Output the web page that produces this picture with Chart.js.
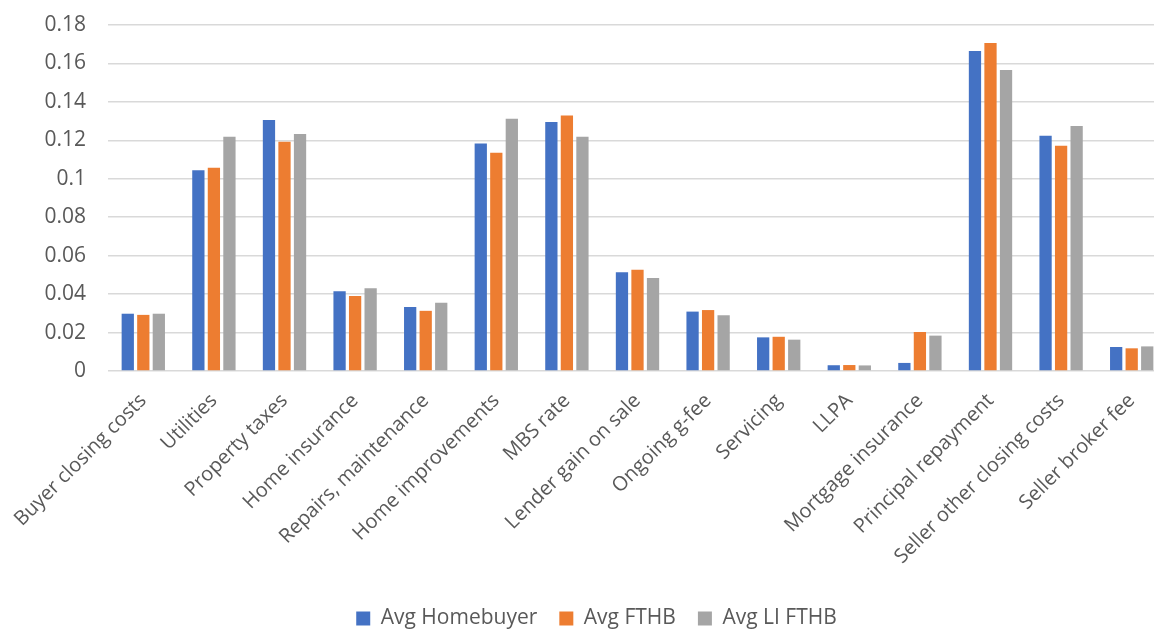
<!DOCTYPE html>
<html>
<head>
<meta charset="utf-8">
<script src="https://cdn.jsdelivr.net/npm/chart.js@4.4.1/dist/chart.umd.min.js"></script>
<style>
  html, body { margin: 0; padding: 0; background: #ffffff; overflow: hidden; }
  #frame { width: 1154px; height: 629px; overflow: hidden; position: relative; }
  #wrap { width: 1194px; height: 629px; position: absolute; left: 0; top: 0; }
</style>
</head>
<body>
<div id="frame"><div id="wrap"><canvas id="chart"></canvas></div></div>
<script>
// Cost components (share of total), by borrower group
const categories = [
  'Buyer closing costs', 'Utilities', 'Property taxes', 'Home insurance',
  'Repairs, maintenance', 'Home improvements', 'MBS rate', 'Lender gain on sale',
  'Ongoing g-fee', 'Servicing', 'LLPA', 'Mortgage insurance',
  'Principal repayment', 'Seller other closing costs', 'Seller broker fee'
];
const avgHomebuyer = [0.0298, 0.1045, 0.1306, 0.0415, 0.0333, 0.1183, 0.1296, 0.0514, 0.0309, 0.0175, 0.0030, 0.0042, 0.1665, 0.1224, 0.0125];
const avgFTHB      = [0.0292, 0.1057, 0.1192, 0.0390, 0.0313, 0.1136, 0.1329, 0.0527, 0.0317, 0.0178, 0.0031, 0.0203, 0.1707, 0.1172, 0.0118];
const avgLIFTHB    = [0.0298, 0.1218, 0.1233, 0.0430, 0.0355, 0.1312, 0.1219, 0.0484, 0.0290, 0.0163, 0.0029, 0.0184, 0.1566, 0.1275, 0.0128];
const yTickLabels  = ['0', '0.02', '0.04', '0.06', '0.08', '0.1', '0.12', '0.14', '0.16', '0.18'];

const FONT = '"Open Sans", sans-serif';
const TEXT = '#595959';

new Chart(document.getElementById('chart'), {
  type: 'bar',
  data: {
    labels: categories,
    datasets: [
      { label: 'Avg Homebuyer', data: avgHomebuyer, backgroundColor: '#4472C4' },
      { label: 'Avg FTHB',      data: avgFTHB,      backgroundColor: '#ED7D31' },
      { label: 'Avg LI FTHB',   data: avgLIFTHB,    backgroundColor: '#A5A5A5' }
    ]
  },
  options: {
    responsive: true,
    maintainAspectRatio: false,
    animation: false,
    devicePixelRatio: 1,
    datasets: { bar: { categoryPercentage: 0.66, barPercentage: 0.79 } },
    layout: { padding: { top: 25, right: 27, left: 26, bottom: -10 } },
    plugins: {
      tooltip: { enabled: false },
      legend: {
        position: 'bottom',
        labels: {
          font: { family: FONT, size: 21 },
          color: TEXT,
          boxWidth: 14,
          boxHeight: 14,
          padding: 22
        }
      }
    },
    scales: {
      x: {
        grid: { display: false },
        border: { display: false },
        ticks: {
          font: { family: FONT, size: 20 },
          color: TEXT,
          maxRotation: 45,
          minRotation: 45,
          autoSkip: false,
          padding: 10
        },
        afterFit: (axis) => { axis.height = 215; }
      },
      y: {
        min: 0,
        max: 0.18,
        grid: {
          color: '#d9d9d9',
          lineWidth: 1.5,
          drawTicks: true,
          tickLength: 22,
          tickColor: 'rgba(0,0,0,0)'
        },
        border: { display: false },
        ticks: {
          stepSize: 0.02,
          font: { family: FONT, size: 21 },
          color: TEXT,
          padding: 0,
          callback: (value, index) => yTickLabels[index]
        },
        afterFit: (axis) => { axis.width = 82; }
      }
    }
  }
});
</script>
</body>
</html>
